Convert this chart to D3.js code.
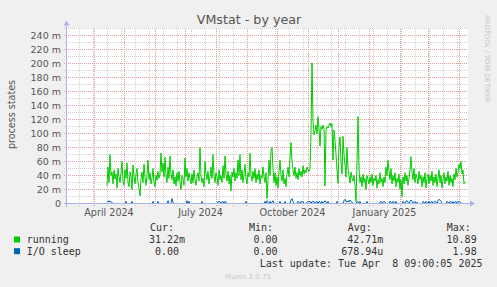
<!DOCTYPE html>
<html>
<head>
<meta charset="utf-8">
<script src="https://cdn.jsdelivr.net/npm/d3@7"></script>
<style>
  html, body { margin: 0; padding: 0; background: #f0f0f0; }
  svg { display: block; }
  text { font-family: "DejaVu Sans", sans-serif; }
  .mono { font-family: "DejaVu Sans Mono", monospace; white-space: pre; }
</style>
</head>
<body>
<svg id="chart" width="497" height="287"></svg>
<script>
// ---------------- DATA ----------------
const title = "VMstat - by year";
const yAxisLabel = "process states";
const domainStart = "2024-03-05";
const domainEnd = "2025-04-09";
const dataStart = "2024-04-14"; // first daily sample
const xLabelMonths = ["2024-04-01", "2024-07-01", "2024-10-01", "2025-01-01"];
const xLabelTexts = ["April 2024", "July 2024", "October 2024", "January 2025"];
const yMax = 0.25;
const yMajorStep = 0.02;
const yMinorStep = 0.01;
const yTickMax = 0.24;

// running (values in milli)
const running = [
  25,52,30,70,40,45,28,48,35,42,
  22,50,38,30,44,60,32,26,48,36,
  58,30,24,45,40,20,55,38,28,42,
  50,30,22,11,35,45,30,56,38,26,
  40,62,34,44,28,36,50,30,24,40,
  33,46,36,42,72,45,58,38,66,40,
  30,52,36,68,42,34,48,28,38,25,
  44,32,46,30,20,40,35,26,65,38,
  50,32,44,36,28,42,30,48,34,26,
  38,44,32,80,40,30,36,24,60,42,
  34,46,28,38,52,36,70,40,30,44,
  38,26,48,34,40,30,54,36,68,42,
  32,46,28,40,18,45,38,50,32,44,
  36,62,40,70,34,48,30,42,56,36,
  28,44,38,72,40,32,46,36,50,30,
  42,34,48,28,40,36,52,38,30,44,
  7,34,62,40,76,80,50,30,44,26,
  38,22,46,62,40,32,48,28,36,24,
  42,52,38,66,87,60,48,40,52,36,
  44,34,50,40,46,38,54,42,48,44,
  52,48,46,50,100,201,120,98,104,112,
  100,124,108,82,110,106,112,108,25,104,
  110,108,112,115,110,114,62,105,90,70,
  48,29,80,95,60,42,96,70,55,38,
  80,50,40,29,45,36,32,40,26,3,
  60,124,48,30,38,24,42,30,36,20,
  40,34,28,38,30,42,26,36,32,40,
  22,34,28,44,30,36,24,38,30,52,
  40,62,46,34,50,28,40,32,44,24,
  36,30,42,20,34,10,38,28,44,32,
  40,26,36,48,67,44,34,50,30,42,
  36,28,46,34,40,24,38,30,44,22,
  36,42,28,40,32,46,26,38,30,42,
  24,36,48,30,40,22,34,44,28,38,
  32,46,26,40,30,36,24,42,34,50,
  38,44,56,50,60,42,48,28,31
];
// I/O sleep (values in milli)
const ioSleep = [
  3,2,4,2,3,1,0,0,0,0,
  0,0,0,0,0,0,0,0,0,3,
  0,0,0,0,0,3,0,0,0,0,
  0,0,0,0,0,0,0,0,0,0,
  0,0,0,0,0,0,3,0,0,0,
  0,3,0,0,0,0,0,0,0,0,
  0,4,0,0,0,7,2,0,0,0,
  0,0,0,0,0,0,0,0,0,0,
  4,0,3,0,0,0,0,0,0,0,
  0,0,0,0,0,3,0,0,0,0,
  0,0,0,0,0,0,0,0,0,0,
  0,3,2,3,0,2,3,0,3,2,
  0,0,0,0,0,0,0,0,0,0,
  0,0,0,0,0,0,0,0,0,3,
  0,0,0,0,0,0,0,0,0,0,
  0,0,0,0,0,0,0,0,3,0,
  4,2,0,3,0,2,4,0,0,0,
  0,0,0,3,0,0,0,0,3,0,
  0,0,0,0,5,7,3,0,0,0,
  0,3,2,0,3,2,3,0,0,0,
  2,3,2,3,0,3,2,3,0,2,
  3,0,3,2,0,3,0,2,4,2,
  0,3,0,0,0,0,0,0,0,0,
  3,0,0,0,0,0,0,4,6,3,
  2,4,2,5,3,2,0,0,0,0,
  3,2,0,3,0,0,0,0,0,0,
  3,0,0,0,0,0,0,0,0,0,
  0,0,0,2,3,0,2,3,2,0,
  0,0,0,3,2,0,3,2,0,3,
  0,0,0,0,0,0,3,2,0,3,
  4,2,0,3,5,3,0,2,3,0,
  2,0,0,0,0,0,3,2,0,3,
  2,0,3,0,2,3,0,2,3,2,
  0,4,6,5,3,0,0,0,0,0,
  3,2,0,3,2,0,3,0,2,3,
  0,2,3,2,0,0,0,0,0
];

const seriesNames = ["running", "I/O sleep"];
const seriesColors = ["#00cc00", "#0066b3"];
const legendHeaders = ["Cur:", "Min:", "Avg:", "Max:"];
const legendCur = ["31.22m", "0.00 "];
const legendMin = ["0.00 ", "0.00 "];
const legendAvg = ["42.71m", "678.94u"];
const legendMax = ["10.89 ", "1.98 "];
const lastUpdate = "Last update: Tue Apr  8 09:00:05 2025";
const footer = "Munin 2.0.75";
const watermark = "RRDTOOL / TOBI OETIKER";

// ---------------- DRAW ----------------
const svg = d3.select("#chart");
const parse = d3.utcParse("%Y-%m-%d");
const plot = { left: 67, right: 467, top: 28.5, bottom: 203.5 };

const x = d3.scaleUtc().domain([parse(domainStart), parse(domainEnd)]).range([plot.left, plot.right]);
const y = d3.scaleLinear().domain([0, yMax]).range([plot.bottom, plot.top]);

const t0 = parse(dataStart);
const dates = running.map((_, i) => d3.utcDay.offset(t0, i));

// plot background
svg.append("rect").attr("x", plot.left).attr("y", plot.top - 0.5)
  .attr("width", plot.right - plot.left + 1).attr("height", plot.bottom - plot.top + 0.5)
  .attr("fill", "#ffffff");

const minorColor = "#cfcfcf";
const majorColor = "#e59a9a";
const grid = svg.append("g").attr("shape-rendering", "crispEdges");

// horizontal grid
const yMinor = d3.range(0, yMax + 1e-9, yMinorStep).filter(v => Math.abs((v / yMajorStep) - Math.round(v / yMajorStep)) > 1e-6);
const yMajor = d3.range(yMajorStep, yTickMax + 1e-9, yMajorStep);
grid.selectAll("line.ymin").data(yMinor).join("line")
  .attr("x1", plot.left - 3).attr("x2", plot.right + 1)
  .attr("y1", d => Math.round(y(d) - 0.5) + 0.5).attr("y2", d => Math.round(y(d) - 0.5) + 0.5)
  .attr("stroke", minorColor).attr("stroke-dasharray", "1,1");

// vertical minor grid: every second Sunday
const sundays = d3.utcSunday.range(x.domain()[0], x.domain()[1])
  .filter(d => d3.utcSunday.count(new Date(0), d) % 2 === 1);
grid.selectAll("line.xmin").data(sundays).join("line")
  .attr("x1", d => Math.round(x(d)) + 0.5).attr("x2", d => Math.round(x(d)) + 0.5)
  .attr("y1", plot.top).attr("y2", plot.bottom + 2)
  .attr("stroke", minorColor).attr("stroke-dasharray", "1,1");

// major grid
grid.selectAll("line.ymaj").data(yMajor).join("line")
  .attr("x1", plot.left - 3).attr("x2", plot.right + 1)
  .attr("y1", d => Math.round(y(d) - 0.5) + 0.5).attr("y2", d => Math.round(y(d) - 0.5) + 0.5)
  .attr("stroke", majorColor).attr("stroke-dasharray", "1,1");
const months = d3.utcMonth.range(d3.utcMonth.ceil(x.domain()[0]), x.domain()[1]);
grid.selectAll("line.xmaj").data(months).join("line")
  .attr("x1", d => Math.round(x(d)) + 0.5).attr("x2", d => Math.round(x(d)) + 0.5)
  .attr("y1", plot.top).attr("y2", plot.bottom + 2)
  .attr("stroke", majorColor).attr("stroke-dasharray", "1,1");

// data lines
const series = [running, ioSleep];
series.forEach((vals, si) => {
  const line = d3.line().x((d, i) => x(dates[i])).y(d => y(d / 1000));
  svg.append("path").datum(vals).attr("d", line)
    .attr("fill", "none").attr("stroke", seriesColors[si]).attr("stroke-width", 1);
});

// axes
const axisColor = "#aab2ee";
svg.append("line").attr("x1", plot.left - 3).attr("x2", plot.right + 3)
  .attr("y1", plot.bottom).attr("y2", plot.bottom).attr("stroke", axisColor).attr("shape-rendering", "crispEdges");
svg.append("line").attr("x1", plot.left - 0.5).attr("x2", plot.left - 0.5)
  .attr("y1", plot.bottom + 3).attr("y2", plot.top - 3).attr("stroke", axisColor).attr("shape-rendering", "crispEdges");
svg.append("path").attr("d", `M${plot.right + 3},${plot.bottom - 3} L${plot.right + 8},${plot.bottom} L${plot.right + 3},${plot.bottom + 3} Z`)
  .attr("fill", axisColor);
svg.append("path").attr("d", `M${plot.left - 3.5},${plot.top - 3} L${plot.left - 0.5},${plot.top - 8} L${plot.left + 2.5},${plot.top - 3} Z`)
  .attr("fill", axisColor);

// y tick labels
const yTicks = d3.range(0, yTickMax + 1e-9, yMajorStep);
svg.append("g").selectAll("text").data(yTicks).join("text")
  .attr("x", 61).attr("y", d => y(d) + 3.5)
  .attr("text-anchor", "end").attr("font-size", "9.5px").attr("fill", "#555")
  .text(d => d === 0 ? "0" : `${Math.round(d * 1000)} m`);

// x labels: centered within their month
svg.append("g").selectAll("text").data(xLabelMonths).join("text")
  .attr("x", d => { const m = parse(d); return (x(m) + x(d3.utcMonth.offset(m, 1))) / 2; })
  .attr("y", 215.5).attr("text-anchor", "middle").attr("font-size", "9.6px").attr("fill", "#555")
  .text((d, i) => xLabelTexts[i]);

// title
svg.append("text").attr("x", 249).attr("y", 24).attr("text-anchor", "middle")
  .attr("font-size", "12.7px").attr("fill", "#555").text(title);

// y axis label
svg.append("text").attr("transform", "translate(14.5,114.5) rotate(-90)").attr("text-anchor", "middle")
  .attr("font-size", "9.6px").attr("fill", "#555").text(yAxisLabel);

// watermark
svg.append("text").attr("transform", "translate(485,15) rotate(90)")
  .attr("font-size", "6.8px").attr("fill", "#c4c4c4").text(watermark);

// legend
const lg = svg.append("g").attr("class", "mono").attr("font-size", "10px").attr("fill", "#333");
const headerX = [150, 249, 347.7, 446.7];
lg.selectAll("text.h").data(legendHeaders).join("text").attr("class", "mono")
  .attr("x", (d, i) => headerX[i]).attr("y", 231).text(d => d);
const rowY = [242.8, 254.5];
seriesNames.forEach((name, i) => {
  svg.append("rect").attr("x", 14).attr("y", rowY[i] - 6.3).attr("width", 6).attr("height", 6)
    .attr("fill", seriesColors[i]);
  lg.append("text").attr("class", "mono").attr("x", 26.7).attr("y", rowY[i]).text(name);
  const cols = [[legendCur[i], 185], [legendMin[i], 283.5], [legendAvg[i], 383.3], [legendMax[i], 482.7]];
  cols.forEach(([txt, ex]) => {
    lg.append("text").attr("class", "mono").attr("x", ex).attr("y", rowY[i])
      .attr("text-anchor", "end").text(txt);
  });
});
lg.append("text").attr("class", "mono").attr("x", 482.5).attr("y", 266.8).attr("text-anchor", "end").text(lastUpdate);

svg.append("text").attr("x", 248).attr("y", 278.5).attr("text-anchor", "middle")
  .attr("font-size", "7px").attr("fill", "#c8c8c8").text(footer);
</script>
</body>
</html>
